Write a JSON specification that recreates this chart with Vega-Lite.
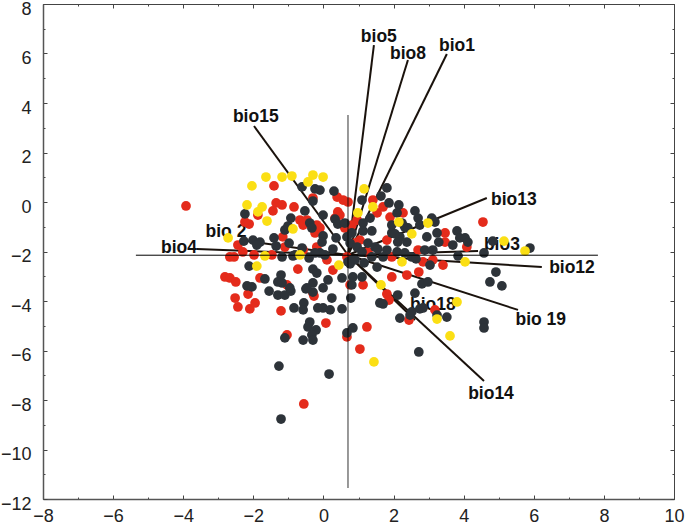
{"$schema":"https://vega.github.io/schema/vega-lite/v6.json","width":631,"height":495,"autosize":{"type":"none"},"padding":{"left":43,"top":4,"right":11,"bottom":29},"background":"white","view":{"stroke":"#444","strokeWidth":1},
"datasets":{
"yellow":[[-2.04,0.65],[-1.64,1.01],[-1.18,1.01],[-0.90,1.05],[-0.30,1.09],[-0.01,1.01],[-0.44,0.81],[-2.18,-0.12],[-1.75,-0.20],[-1.87,-0.40],[-1.61,-0.77],[-0.87,-1.09],[-2.72,-1.45],[-1.67,-2.18],[-0.67,-2.14],[-1.90,-2.59],[0.44,-2.55],[1.16,0.53],[0.98,-0.44],[1.41,-0.20],[2.15,-0.81],[2.52,-1.29],[2.98,-0.85],[4.04,-2.42],[2.24,-2.42],[1.64,-3.35],[5.15,-1.58],[5.75,-1.98],[3.81,-4.04],[3.24,-4.73],[3.61,-5.41],[1.44,-6.46]],
"red":[[-3.92,-0.16],[-1.41,0.65],[-1.35,-0.04],[-1.18,-0.12],[-1.44,-0.36],[-0.84,-0.20],[-1.87,-0.53],[-2.12,-0.89],[-2.24,-0.81],[-0.67,-0.73],[-0.58,-0.93],[-0.19,-0.93],[-0.24,-1.25],[0.56,0.08],[0.70,0],[0.41,-0.40],[0.47,-0.53],[-0.30,0.16],[-1.16,-1.41],[-2.44,-1.74],[-2.30,-2.02],[-2.67,-2.22],[-2.55,-2.22],[-1.98,-2.14],[-1.47,-2.14],[-0.73,-2.71],[-2.81,-3.03],[-2.67,-3.07],[-2.50,-3.23],[-1.81,-3.07],[-2.15,-3.72],[-2.52,-3.88],[-0.30,-3.68],[0.10,-2.34],[0.67,-2.22],[-0.19,-1.82],[-1.10,-1.82],[-2.44,-4.24],[-2.10,-4.32],[-1.95,-4.08],[-1.21,-4.40],[0.07,-4.89],[1.24,-5.05],[-1.04,-5.37],[0.67,-5.45],[1.04,-5.94],[-0.56,-8.16],[-0.27,-3.80],[0.76,-3.35],[1.13,-3.35],[-1.04,-3.35],[1.81,-3.72],[1.87,-3.96],[3.18,-4.36],[2.44,-4.77],[4.55,-0.81],[3.47,-1.25],[4.09,-1.82],[3.41,-2.55],[2.72,-2.83],[2.38,-2.95],[1.95,-3.03],[1.53,-0.44],[1.70,-0.20],[1.90,-0.61],[2.27,-0.44],[3.47,-1.62],[2.70,-1.94],[3.12,-2.34],[2.84,-2.42],[1.95,-2.22],[0.96,-0.73],[0.61,-1.05],[1.04,-1.54],[1.27,-2.02],[0.39,0.20],[0.33,-0.65],[-0.47,-0.73],[-0.10,-1.05],[-0.58,-1.94],[0.27,-2.75],[0.81,-0.93],[0.90,-1.66],[1.81,-1.54],[1.41,0.08]],
"dark":[[-0.61,0.61],[-0.24,0.53],[-0.10,0.48],[0.30,0.44],[-0.30,0.04],[-2.24,-0.48],[-0.53,-0.36],[-0.01,-0.53],[-0.93,-0.65],[0.33,-0.69],[0.41,-0.89],[-0.39,-0.85],[-0.33,-1.05],[-1.10,-1.13],[-1.01,-0.97],[-0.01,-1.37],[0.36,-1.45],[-0.04,-1.62],[-2.27,-1.58],[-2.01,-1.54],[-1.81,-1.62],[-1.90,-1.74],[-1.41,-1.45],[-1.35,-1.78],[-0.98,-1.66],[-0.61,-1.86],[-1.18,-2.22],[-0.87,-2.18],[-0.41,-2.26],[-0.10,-2.06],[0.04,-2.14],[0.27,-1.90],[-0.30,-2.71],[-0.19,-2.87],[-1.67,-3.11],[-1.21,-2.95],[-1.30,-3.23],[-2.12,-2.59],[-2.18,-3.39],[-2.04,-3.43],[-1.55,-3.60],[-1.30,-3.76],[-1.10,-3.76],[-0.93,-3.60],[-0.50,-3.51],[-0.30,-3.27],[-0.01,-3.47],[0.13,-3.15],[0.53,-3.07],[0.24,-3.88],[0.70,-2.42],[0.67,-1.41],[-0.84,-4.28],[-0.56,-4.08],[-0.58,-4.36],[-0.16,-4.28],[-0.01,-4.28],[0.19,-4.36],[0.53,-4.32],[0.78,-3.88],[-0.39,-4.85],[-0.44,-5.05],[-0.21,-5.17],[-1.10,-5.49],[-0.58,-5.58],[-0.33,-5.37],[-0.30,-5.58],[0.67,-5.29],[0.84,-5.09],[-1.27,-6.63],[0.16,-6.95],[-1.21,-8.77],[1.61,-4.08],[-0.30,-3.64],[2.12,-3.76],[1.70,-4.12],[2.61,-3.68],[2.18,-4.69],[2.47,-4.57],[2.52,-4.44],[2.75,-4.32],[2.84,-4.28],[3.24,-4.57],[3.52,-4.65],[2.72,-6.06],[4.58,-4.85],[4.58,-5.09],[2.81,-3.31],[2.98,-3.23],[4.75,-3.23],[5.09,-3.39],[0.81,-3.35],[1.81,0.57],[1.64,0.24],[1.10,0.08],[1.87,-0.04],[2.15,-0.12],[2.61,-0.36],[2.10,-0.44],[2.70,-0.65],[3.09,-0.65],[3.18,-0.81],[2.75,-0.93],[1.95,-0.93],[2.24,-0.85],[2.32,-1.01],[1.13,-0.85],[1.33,-0.65],[1.13,-1.17],[1.38,-1.17],[0.81,-1.25],[1.95,-1.25],[2.04,-1.29],[2.95,-1.41],[3.24,-1.25],[3.81,-1.17],[3.89,-1.45],[4.04,-1.45],[4.12,-1.62],[3.29,-1.62],[3.69,-1.74],[2.41,-1.05],[2.18,-1.41],[2.38,-1.62],[2.12,-1.62],[0.76,-1.66],[1.27,-1.66],[0.96,-1.82],[1.10,-2.02],[1.47,-1.82],[1.55,-1.90],[1.81,-1.94],[1.70,-2.22],[2.10,-2.02],[2.32,-2.06],[2.52,-2.22],[2.64,-2.30],[2.89,-1.94],[3.12,-1.94],[3.04,-2.55],[3.84,-2.18],[4.58,-2.06],[4.83,-1.58],[5.89,-1.86],[4.92,-2.83],[1.53,-2.63],[1.38,-2.22],[1.16,-2.46],[0.81,-2.34],[0.76,-2.50],[1.10,-3.03],[0.84,-3.03],[0.61,-0.85],[-0.81,-2.14],[-0.24,-2.06],[-0.96,-3.47],[-1.18,-3.27],[-0.47,-3.47],[0.90,-2.34]],
"vectors":[{"name":"bio5","x0":0.7,"y0":-2.14,"x1":1.44,"y1":6.34,"lx":1.58,"ly":6.67},{"name":"bio8","x0":0.7,"y0":-2.14,"x1":2.41,"y1":5.74,"lx":2.41,"ly":5.98},{"name":"bio1","x0":0.7,"y0":-2.14,"x1":3.52,"y1":5.98,"lx":3.81,"ly":6.30},{"name":"bio15","x0":0.7,"y0":-2.14,"x1":-1.98,"y1":3.07,"lx":-1.93,"ly":3.43},{"name":"bio13","x0":0.7,"y0":-2.14,"x1":4.66,"y1":0.16,"lx":5.43,"ly":0.08},{"name":"bio3","x0":0.7,"y0":-2.14,"x1":4.41,"y1":-1.98,"lx":5.09,"ly":-1.74},{"name":"bio12","x0":0.7,"y0":-2.14,"x1":6.23,"y1":-2.63,"lx":7.09,"ly":-2.67},{"name":"bio 19","x0":0.7,"y0":-2.14,"x1":5.55,"y1":-4.36,"lx":6.2,"ly":-4.77},{"name":"bio14","x0":0.7,"y0":-2.14,"x1":4.58,"y1":-7.23,"lx":4.78,"ly":-7.76},{"name":"bio18","x0":0.7,"y0":-2.14,"x1":2.61,"y1":-4.77,"lx":3.12,"ly":-4.16},{"name":"bio4","x0":0.7,"y0":-2.14,"x1":-3.61,"y1":-1.9,"lx":-4.12,"ly":-1.86},{"name":"bio 2","x0":0.7,"y0":-2.14,"x1":-2.38,"y1":-1.54,"lx":-2.78,"ly":-1.21}],
"cross":[{"x0":-5.35,"x1":7.83,"y0":-2.15,"y1":-2.15,"op":1,"w":1},{"x0":0.7,"x1":0.7,"y0":3.52,"y1":-11.56,"op":0.5,"w":1.6}]
},
"resolve":{"axis":{"x":"independent","y":"independent"}},
"layer":[
{"data":{"name":"vectors"},"mark":{"type":"rule","color":"#1a120c","strokeWidth":2},"encoding":{
"x":{"field":"x0","type":"quantitative","scale":{"domain":[-8,10],"nice":false,"zero":false},"axis":{"orient":"bottom","title":null,"values":[-8,-7,-6,-5,-4,-3,-2,-1,0,1,2,3,4,5,6,7,8,9,10],"labelExpr":"datum.value % 2 == 0 ? datum.label : ''","labelFont":"Liberation Sans","labelFontSize":18,"labelColor":"#222","labelPadding":12,"labelOverlap":false,"labelFlush":false,"tickSize":{"condition":{"test":"datum.value % 2 == 0","value":-4},"value":-2},"tickColor":"#444","domainColor":"#555","domainWidth":1.5,"grid":false}},
"y":{"field":"y0","type":"quantitative","scale":{"domain":[-12,8],"nice":false,"zero":false},"axis":{"orient":"left","title":null,"values":[-12,-11,-10,-9,-8,-7,-6,-5,-4,-3,-2,-1,0,1,2,3,4,5,6,7,8],"labelExpr":"datum.value % 2 == 0 ? datum.label : ''","labelFont":"Liberation Sans","labelFontSize":18,"labelColor":"#222","labelPadding":16,"labelOffset":5,"labelOverlap":false,"labelFlush":false,"tickSize":{"condition":{"test":"datum.value % 2 == 0","value":-4},"value":-2},"tickColor":"#444","domainColor":"#555","domainWidth":1.5,"grid":false}},
"x2":{"field":"x1"},"y2":{"field":"y1"}}},
{"data":{"name":"vectors"},"mark":{"type":"text","font":"Liberation Sans","fontWeight":"bold","fontSize":17.5,"color":"#111","align":"center","baseline":"middle"},"encoding":{
"x":{"field":"lx","type":"quantitative","axis":{"orient":"top","title":null,"labels":false,"values":[-8,-7,-6,-5,-4,-3,-2,-1,0,1,2,3,4,5,6,7,8,9,10],"tickSize":{"condition":{"test":"datum.value % 2 == 0","value":-4},"value":-2},"tickColor":"#444","domainColor":"#444","grid":false}},
"y":{"field":"ly","type":"quantitative","axis":{"orient":"right","title":null,"labels":false,"values":[-12,-11,-10,-9,-8,-7,-6,-5,-4,-3,-2,-1,0,1,2,3,4,5,6,7,8],"tickSize":{"condition":{"test":"datum.value % 2 == 0","value":-4},"value":-2},"tickColor":"#444","domainColor":"#444","grid":false}},
"text":{"field":"name"}}},
{"data":{"name":"red"},"transform":[{"calculate":"datum[0]","as":"a"},{"calculate":"datum[1]","as":"b"}],"mark":{"type":"circle","size":95,"color":"#e42b1b","opacity":1},"encoding":{"x":{"field":"a","type":"quantitative","axis":null},"y":{"field":"b","type":"quantitative","axis":null}}},
{"data":{"name":"dark"},"transform":[{"calculate":"datum[0]","as":"a"},{"calculate":"datum[1]","as":"b"}],"mark":{"type":"circle","size":95,"color":"#2d3339","opacity":1},"encoding":{"x":{"field":"a","type":"quantitative","axis":null},"y":{"field":"b","type":"quantitative","axis":null}}},
{"data":{"name":"yellow"},"transform":[{"calculate":"datum[0]","as":"a"},{"calculate":"datum[1]","as":"b"}],"mark":{"type":"circle","size":95,"color":"#fbdf14","opacity":1},"encoding":{"x":{"field":"a","type":"quantitative","axis":null},"y":{"field":"b","type":"quantitative","axis":null}}},
{"data":{"name":"cross"},"mark":{"type":"rule","color":"#000"},"encoding":{"x":{"field":"x0","type":"quantitative","axis":null},"y":{"field":"y0","type":"quantitative","axis":null},"x2":{"field":"x1"},"y2":{"field":"y1"},"opacity":{"field":"op","type":"quantitative","scale":null},"strokeWidth":{"field":"w","type":"quantitative","scale":null}}}
]}
